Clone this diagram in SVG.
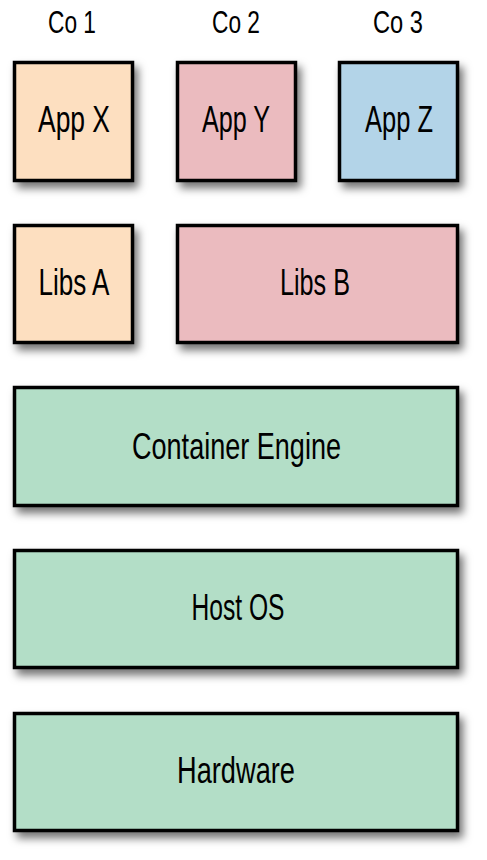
<svg xmlns="http://www.w3.org/2000/svg" width="487" height="860" viewBox="0 0 487 860">
<defs>
<filter id="sh" x="-20%" y="-20%" width="150%" height="150%">
<feDropShadow dx="4" dy="6" stdDeviation="4" flood-color="#000" flood-opacity="0.55"/>
</filter>
<style>
.b{stroke:#000;stroke-width:3.5;filter:url(#sh)}
.t{font-family:"Liberation Sans",Arial,sans-serif;font-size:36px;fill:#000;text-anchor:middle}
.h{font-family:"Liberation Sans",Arial,sans-serif;font-size:32px;fill:#000;text-anchor:middle}
.o{fill:#FDDFC0}.p{fill:#EBBBBF}.bl{fill:#B3D4E8}.g{fill:#B3DEC7}
</style>
</defs>
<rect width="487" height="860" fill="#fff"/>
<g id="headers">
<text class="h" x="72" y="33" textLength="48" lengthAdjust="spacingAndGlyphs">Co 1</text>
<text class="h" x="236" y="33" textLength="48" lengthAdjust="spacingAndGlyphs">Co 2</text>
<text class="h" x="398" y="33" textLength="50" lengthAdjust="spacingAndGlyphs">Co 3</text>
</g>
<g id="appX"><rect class="b o" x="14.5" y="62.5" width="118" height="118"/><text class="t" x="74" y="132" textLength="72" lengthAdjust="spacingAndGlyphs">App X</text></g>
<g id="appY"><rect class="b p" x="177.5" y="62.5" width="118" height="118"/><text class="t" x="236" y="132" textLength="68" lengthAdjust="spacingAndGlyphs">App Y</text></g>
<g id="appZ"><rect class="b bl" x="339.5" y="62.5" width="118" height="118"/><text class="t" x="399" y="132" textLength="68" lengthAdjust="spacingAndGlyphs">App Z</text></g>
<g id="libsA"><rect class="b o" x="14.5" y="225.5" width="118" height="117"/><text class="t" x="74" y="295" textLength="71" lengthAdjust="spacingAndGlyphs">Libs A</text></g>
<g id="libsB"><rect class="b p" x="177.5" y="225.5" width="280" height="117"/><text class="t" x="315" y="295" textLength="70" lengthAdjust="spacingAndGlyphs">Libs B</text></g>
<g id="engine"><rect class="b g" x="14.5" y="387.5" width="443" height="118"/><text class="t" x="236.5" y="459" textLength="209" lengthAdjust="spacingAndGlyphs">Container Engine</text></g>
<g id="hostos"><rect class="b g" x="14.5" y="550.5" width="443" height="117"/><text class="t" x="238" y="620" textLength="93" lengthAdjust="spacingAndGlyphs">Host OS</text></g>
<g id="hardware"><rect class="b g" x="14.5" y="713.5" width="443" height="117"/><text class="t" x="236" y="783" textLength="118" lengthAdjust="spacingAndGlyphs">Hardware</text></g>
<g id="connectors"/>
</svg>
